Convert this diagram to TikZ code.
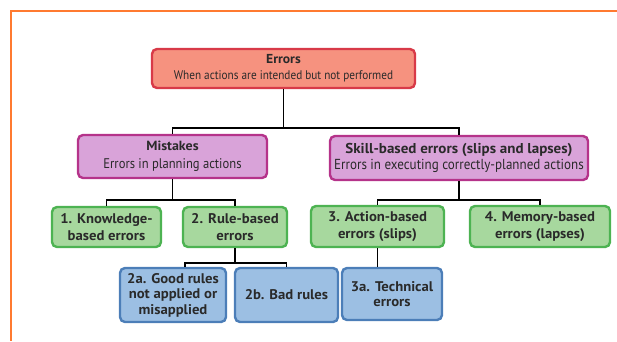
\documentclass[tikz,border=0pt]{standalone}
\usepackage{fontspec}
\setmainfont{PT Sans}[FakeStretch=0.9]
\newfontfamily\headfont{PT Sans}[FakeStretch=1.05]
\definecolor{frameorange}{HTML}{FF7A30}
\definecolor{redfill}{HTML}{F6927F}
\definecolor{redline}{HTML}{D83A48}
\definecolor{purpfill}{HTML}{D9A3D9}
\definecolor{purpline}{HTML}{B5338A}
\definecolor{greenfill}{HTML}{A7D89E}
\definecolor{greenline}{HTML}{4DB352}
\definecolor{bluefill}{HTML}{9CBFE3}
\definecolor{blueline}{HTML}{4C7EB8}
\definecolor{inktext}{HTML}{2A2A2A}
\newcommand{\headline}[2]{{\headfont\bfseries\fontsize{#1}{#1}\selectfont #2}}
\tikzset{
  box/.style={draw, line width=2.4pt, rounded corners=5pt, align=center,
    inner sep=1pt, text=inktext},
  redbox/.style={box, fill=redfill, draw=redline},
  purpbox/.style={box, fill=purpfill, draw=purpline},
  greenbox/.style={box, fill=greenfill, draw=greenline,
    font=\headfont\bfseries\fontsize{14}{17}\selectfont},
  bluebox/.style={box, fill=bluefill, draw=blueline,
    font=\headfont\bfseries\fontsize{14}{15.5}\selectfont},
  link/.style={draw=black, line width=1.8pt},
  frame/.style={draw=frameorange, line width=2.6pt}
}
\begin{document}
\begin{tikzpicture}[x=1pt,y=-1pt]
\useasboundingbox (0,0) rectangle (617,341);
% page frame
\draw[frame] (10,11) -- (617,11);
\draw[frame] (11,11) -- (11,341);

% junction points of the tree
\coordinate (b1) at (283,128);
\coordinate (b2) at (107,200);
\coordinate (b3) at (378,200);
\coordinate (b4) at (185,263);

% boxes
\node[redbox, minimum width=263pt, minimum height=39pt,
      font=\fontsize{12.5}{16}\selectfont] (err) at (283.5,68.5)
  {\headline{13}{Errors}\\When actions are intended but not performed};
\node[purpbox, minimum width=189pt, minimum height=43pt,
      font=\fontsize{14}{18}\selectfont] (mis) at (172.5,156.5)
  {\headline{13.3}{Mistakes}\\Errors in planning actions};
\node[purpbox, minimum width=258pt, minimum height=44pt,
      font=\fontsize{14.5}{16}\selectfont] (skl) at (459,158)
  {\headline{14.3}{Skill-based errors (slips and lapses)}\\Errors in executing correctly-planned actions};
\node[greenbox, minimum width=109pt, minimum height=40pt] (kno) at (106.5,227)
  {1. Knowledge-\\based errors};
\node[greenbox, minimum width=104pt, minimum height=40pt] (rul) at (235,227)
  {2. Rule-based\\errors};
\node[greenbox, minimum width=133pt, minimum height=41pt] (act) at (377.5,226.5)
  {3. Action-based\\errors (slips)};
\node[greenbox, minimum width=140pt, minimum height=41pt] (mem) at (540,226.5)
  {4. Memory-based\\errors (lapses)};
\node[bluebox, minimum width=106pt, minimum height=54pt] (g2a) at (173,295)
  {2a. Good rules\\not applied or\\misapplied};
\node[bluebox, minimum width=103pt, minimum height=54pt] (g2b) at (286.5,295)
  {2b. Bad rules};
\node[bluebox, minimum width=100pt, minimum height=52pt] (t3a) at (392,294)
  {3a. Technical\\errors};

% tree connectors
\draw[link] (err.south) -- (err.south |- b1);
\draw[link] (mis.north) |- (b1) -| (skl.north);
\draw[link] (mis.south) -- (mis.south |- b2);
\draw[link] (kno.north) |- (b2) -| (rul.north);
\draw[link] (skl.south) -- (skl.south |- b3);
\draw[link] (act.north) |- (b3) -| (mem.north);
\draw[link] (rul.south) -- (rul.south |- b4);
\draw[link] (g2a.north -| b4) -- (b4) -| (g2b.north);
\draw[link] (act.south) -- (t3a.north -| act.south);
\end{tikzpicture}
\end{document}
